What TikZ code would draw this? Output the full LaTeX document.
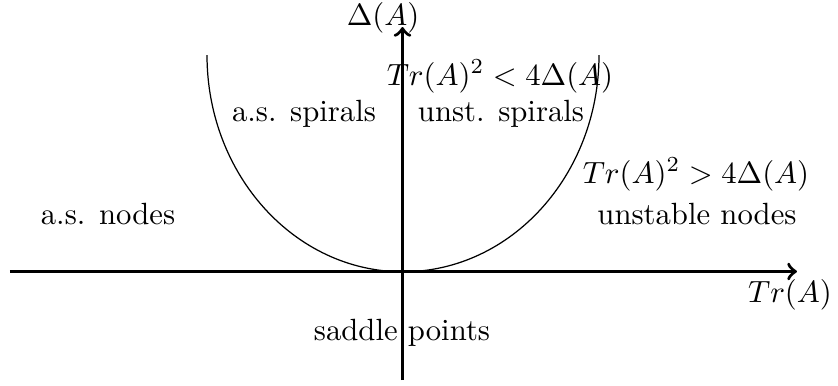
\documentclass[tikz,border=0pt]{standalone}
\begin{document}
\begin{tikzpicture}[x=0.3257pt,y=-0.3257pt,
  axis/.style={line width=1.1pt,->},
  curve/.style={line width=0.4pt},
  lbl/.style={anchor=base,inner sep=0pt}]
\useasboundingbox (0,0) rectangle (838,385);
\coordinate (xl) at (10,271.5);
\coordinate (xr) at (797,271.5);
\coordinate (yb) at (402.5,380);
\coordinate (yt) at (402.5,27);
\coordinate (cl) at (207,55);
\draw[axis] (xl) -- (xr);
\draw[axis] (yb) -- (yt);
\draw[curve] (cl) arc[start angle=180,end angle=360,x radius=63.84pt,y radius=70.6pt];
\node[lbl] (dA) at (383,25) {$\Delta(A)$};
\node[lbl] (trA) at (790,302) {$Tr(A)$};
\node[lbl] (lt) at (500,85) {$Tr(A)^2<4\Delta(A)$};
\node[lbl] (gt) at (696,183) {$Tr(A)^2>4\Delta(A)$};
\node[lbl] (ass) at (304,121) {a.s. spirals};
\node[lbl] (uss) at (501,121) {unst. spirals};
\node[lbl] (asn) at (108,224) {a.s. nodes};
\node[lbl] (un) at (697,224) {unstable nodes};
\node[lbl] (sp) at (402,340) {saddle points};
\end{tikzpicture}
\end{document}
